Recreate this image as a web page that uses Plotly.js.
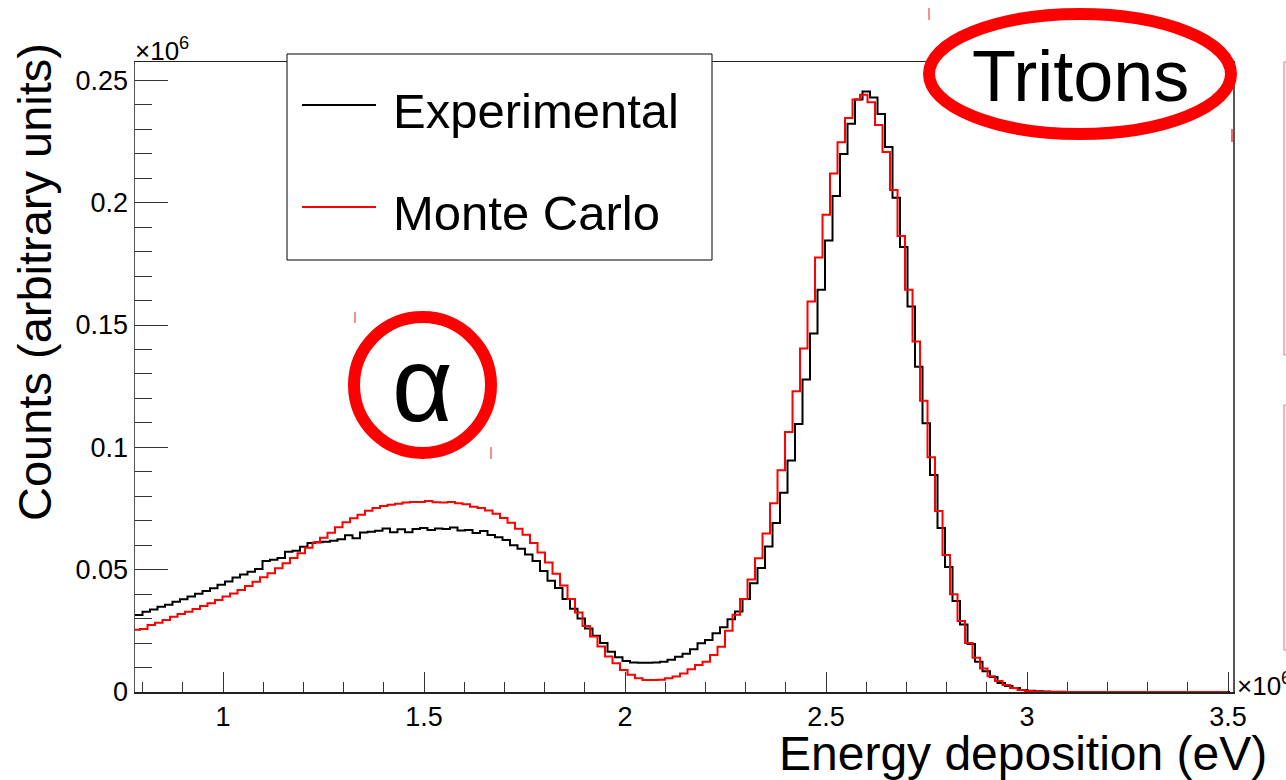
<!DOCTYPE html>
<html>
<head>
<meta charset="utf-8">
<script src="https://cdn.plot.ly/plotly-3.0.1.min.js"></script>
<style>html,body{margin:0;padding:0;background:#fff;}#chart{width:1286px;height:780px;}</style>
</head>
<body>
<div id="chart"></div>
<script>
// ---- data (energy in units of 10^6 eV, counts in units of 10^6) ----
const binLow = 0.781;      // first bin low edge
const binWidth = 0.018657; // bin width
const mcShift = -0.0062;   // Monte Carlo binning offset

const expCounts = [
0.0315,0.0328,0.0337,0.0348,0.0357,0.0369,0.0379,0.0390,0.0402,0.0413,
0.0424,0.0438,0.0452,0.0468,0.0480,0.0492,0.0503,0.0535,0.0541,0.0548,
0.0573,0.0577,0.0594,0.0609,0.0612,0.0614,0.0618,0.0624,0.0641,0.0628,
0.0652,0.0655,0.0659,0.0668,0.0653,0.0665,0.0653,0.0666,0.0670,0.0662,
0.0668,0.0666,0.0672,0.0660,0.0662,0.0650,0.0658,0.0642,0.0632,0.0621,
0.0600,0.0585,0.0562,0.0535,0.0495,0.0455,0.0425,0.0380,0.0340,0.0300,
0.0260,0.0230,0.0200,0.0165,0.0142,0.0127,0.0121,0.0120,0.0120,0.0121,
0.0124,0.0132,0.0144,0.0156,0.0175,0.0199,0.0213,0.0240,0.0265,0.0297,
0.0329,0.0380,0.0444,0.0507,0.0595,0.0691,0.0814,0.0946,0.1095,0.1277,
0.1465,0.1644,0.1845,0.2027,0.2199,0.2323,0.2422,0.2454,0.2430,0.2362,
0.2228,0.2020,0.1819,0.1576,0.1329,0.1098,0.0887,0.0670,0.0511,0.0372,
0.0276,0.0196,0.0124,0.0085,0.0061,0.0037,0.0025,0.0016,0.0008,0.0005,
0.0003,0.0002,0.0001,0.0001,0,0,0,0,0,0,
0,0,0,0,0,0,0,0,0,0,
0,0,0,0,0,0
];

const mcCounts = [
0.0254,0.0258,0.0274,0.0283,0.0294,0.0308,0.0319,0.0328,0.0339,0.0352,
0.0363,0.0376,0.0390,0.0403,0.0417,0.0433,0.0451,0.0469,0.0485,0.0506,
0.0526,0.0548,0.0567,0.0590,0.0611,0.0630,0.0651,0.0673,0.0694,0.0710,
0.0724,0.0741,0.0752,0.0760,0.0765,0.0769,0.0775,0.0777,0.0777,0.0781,
0.0776,0.0775,0.0777,0.0771,0.0767,0.0757,0.0752,0.0742,0.0729,0.0711,
0.0692,0.0667,0.0643,0.0609,0.0570,0.0529,0.0483,0.0435,0.0380,0.0325,
0.0270,0.0227,0.0186,0.0145,0.0117,0.0090,0.0070,0.0056,0.0049,0.0049,
0.0050,0.0056,0.0063,0.0076,0.0093,0.0110,0.0124,0.0151,0.0185,0.0250,
0.0316,0.0380,0.0460,0.0547,0.0648,0.0771,0.0906,0.1063,0.1229,0.1404,
0.1596,0.1776,0.1951,0.2119,0.2247,0.2346,0.2422,0.2441,0.2410,0.2318,
0.2207,0.2052,0.1864,0.1644,0.1433,0.1190,0.0960,0.0740,0.0560,0.0400,
0.0290,0.0200,0.0140,0.0096,0.0064,0.0045,0.0029,0.0016,0.0008,0.0004,
0.0002,0,0,0,0,0,0,0,0,0,
0,0,0,0,0,0,0,0,0,0,
0,0,0,0,0,0
];

const xTickVals = [1, 1.5, 2, 2.5, 3, 3.5];
const xTickText = ["1", "1.5", "2", "2.5", "3", "3.5"];
const yTickVals = [0, 0.05, 0.1, 0.15, 0.2, 0.25];
const yTickText = ["0", "0.05", "0.1", "0.15", "0.2", "0.25"];
const seriesNames = ["Experimental", "Monte Carlo"];

// ---- build step outlines ----
function stepXY(counts, shift) {
  const xs = [], ys = [];
  for (let k = 0; k < counts.length; k++) {
    xs.push(binLow + shift + k * binWidth);
    ys.push(counts[k]);
  }
  xs.push(binLow + shift + counts.length * binWidth);
  ys.push(counts[counts.length - 1]);
  return {xs, ys};
}
const e = stepXY(expCounts, 0);
const m = stepXY(mcCounts, mcShift);

const FONT = "Liberation Sans, Arial, Helvetica, sans-serif";
const L = 135, R = 1233, T = 62, B = 692;
const W = R - L, H = B - T;
const px = v => (v - L) / W;
const py = v => (B - v) / H;

const traces = [
  {x: e.xs, y: e.ys, type: 'scatter', mode: 'lines', line: {shape: 'hv', color: '#000000', width: 2}, name: seriesNames[0], showlegend: false, hoverinfo: 'skip'},
  {x: m.xs, y: m.ys, type: 'scatter', mode: 'lines', line: {shape: 'hv', color: '#ff0000', width: 2}, name: seriesNames[1], showlegend: false, hoverinfo: 'skip'}
];

const red = '#ff0000', pink = '#f26b6b';
const shapes = [
  // legend box
  {type: 'rect', xref: 'paper', yref: 'paper', x0: px(287), x1: px(712), y0: py(54), y1: py(260), line: {color: '#000', width: 1}, fillcolor: '#ffffff', layer: 'above'},
  {type: 'line', xref: 'paper', yref: 'paper', x0: px(302), x1: px(376), y0: py(105), y1: py(105), line: {color: '#000', width: 2}},
  {type: 'line', xref: 'paper', yref: 'paper', x0: px(302), x1: px(376), y0: py(207), y1: py(207), line: {color: red, width: 2}},
  // Tritons ellipse
  {type: 'circle', xref: 'paper', yref: 'paper', x0: px(929), x1: px(1231), y0: py(14), y1: py(134), line: {color: red, width: 12}, fillcolor: '#ffffff', layer: 'above'},
  // alpha circle
  {type: 'circle', xref: 'paper', yref: 'paper', x0: px(354), x1: px(491), y0: py(317), y1: py(453), line: {color: red, width: 12}, layer: 'above'},
  // small marks
  {type: 'line', xref: 'paper', yref: 'paper', x0: px(355), x1: px(355), y0: py(312), y1: py(323), line: {color: pink, width: 1.5}},
  {type: 'line', xref: 'paper', yref: 'paper', x0: px(491), x1: px(491), y0: py(447), y1: py(459), line: {color: pink, width: 1.5}},
  {type: 'line', xref: 'paper', yref: 'paper', x0: px(929), x1: px(929), y0: py(8), y1: py(20), line: {color: pink, width: 1.5}},
  {type: 'line', xref: 'paper', yref: 'paper', x0: px(1232), x1: px(1232), y0: py(129), y1: py(142), line: {color: pink, width: 2}},
  // partial boxes at right edge
  {type: 'rect', xref: 'paper', yref: 'paper', x0: px(1284), x1: px(1300), y0: py(62), y1: py(355), line: {color: pink, width: 1}},
  {type: 'rect', xref: 'paper', yref: 'paper', x0: px(1284), x1: px(1300), y0: py(405), y1: py(650), line: {color: pink, width: 1}}
];

const annotations = [
  {xref: 'paper', yref: 'paper', x: px(34), y: py(282), text: 'Counts (arbitrary units)', textangle: -90, showarrow: false, font: {family: FONT, size: 47, color: '#000'}, xanchor: 'center', yanchor: 'middle'},
  {xref: 'paper', yref: 'paper', x: px(1269), y: py(753), text: 'Energy deposition (eV)', showarrow: false, font: {family: FONT, size: 48, color: '#000'}, xanchor: 'right', yanchor: 'middle'},
  {xref: 'paper', yref: 'paper', x: px(133), y: py(49), text: '×10<sup>6</sup>', showarrow: false, font: {family: FONT, size: 26, color: '#000'}, xanchor: 'left', yanchor: 'middle'},
  {xref: 'paper', yref: 'paper', x: px(1235), y: py(684), text: '×10<sup>6</sup>', showarrow: false, font: {family: FONT, size: 26, color: '#000'}, xanchor: 'left', yanchor: 'middle'},
  {xref: 'paper', yref: 'paper', x: px(391), y: py(111), text: seriesNames[0], showarrow: false, font: {family: FONT, size: 49, color: '#000'}, xanchor: 'left', yanchor: 'middle'},
  {xref: 'paper', yref: 'paper', x: px(391), y: py(213), text: seriesNames[1], showarrow: false, font: {family: FONT, size: 49, color: '#000'}, xanchor: 'left', yanchor: 'middle'},
  {xref: 'paper', yref: 'paper', x: px(1080), y: py(76), text: 'Tritons', showarrow: false, font: {family: FONT, size: 72, color: '#000'}, xanchor: 'center', yanchor: 'middle'},
  {xref: 'paper', yref: 'paper', x: px(422), y: py(384), text: 'α', showarrow: false, font: {family: FONT, size: 105, color: '#000'}, xanchor: 'center', yanchor: 'middle'}
];

const layout = {
  width: 1286, height: 780,
  margin: {l: L, r: 1286 - R, t: T, b: 780 - B, pad: 0},
  paper_bgcolor: '#ffffff', plot_bgcolor: '#ffffff',
  font: {family: FONT, color: '#000'},
  showlegend: false,
  xaxis: {
    range: [0.781, 0.781 + W / 402], showgrid: false, zeroline: false,
    showline: true, linecolor: '#222', linewidth: 1.5, mirror: true,
    ticks: 'inside', ticklen: 20, tickwidth: 1, tickcolor: '#333',
    tickmode: 'array', tickvals: xTickVals, ticktext: xTickText,
    tickfont: {family: FONT, size: 27, color: '#000'},
    minor: {tickmode: 'linear', tick0: 0, dtick: 0.1, ticks: 'inside', ticklen: 10, tickwidth: 1, tickcolor: '#333', showgrid: false},
    layer: 'below traces', fixedrange: true
  },
  yaxis: {
    range: [0, 0.2575], showgrid: false, zeroline: false,
    showline: true, linecolor: '#555', linewidth: 1.5, mirror: true,
    ticks: 'inside', ticklen: 33, tickwidth: 1, tickcolor: '#333',
    tickmode: 'array', tickvals: yTickVals, ticktext: yTickText,
    tickfont: {family: FONT, size: 27, color: '#000'},
    minor: {tickmode: 'linear', tick0: 0, dtick: 0.01, ticks: 'inside', ticklen: 17, tickwidth: 1, tickcolor: '#333', showgrid: false},
    layer: 'below traces', fixedrange: true
  },
  shapes: shapes,
  annotations: annotations
};

Plotly.newPlot('chart', traces, layout, {displayModeBar: false, staticPlot: true});
</script>
</body>
</html>
